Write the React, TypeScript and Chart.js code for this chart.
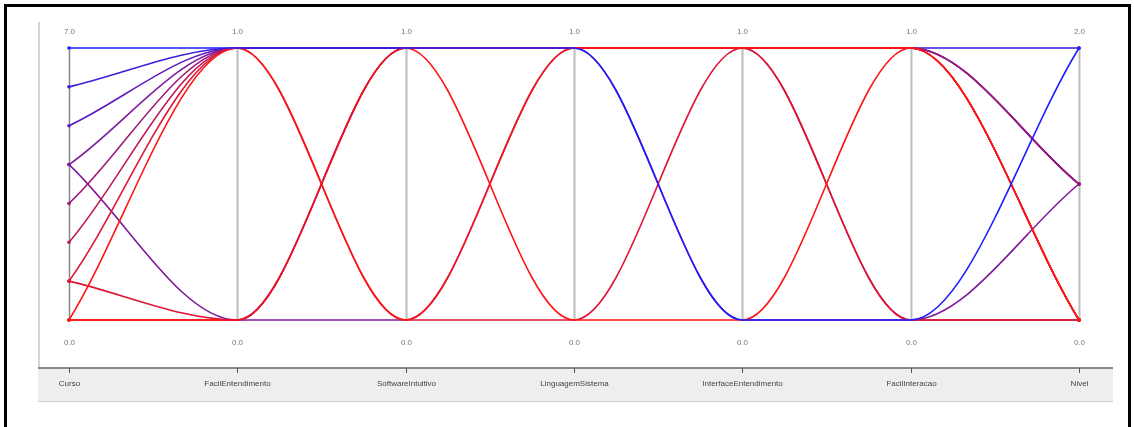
import { useEffect, useRef } from "react";
import { Chart, registerables } from "chart.js";

Chart.register(...registerables);

// Parallel-coordinate axes
const axisNames = [
  "Curso",
  "FacilEntendimento",
  "SoftwareIntuitivo",
  "LinguagemSistema",
  "InterfaceEntendimento",
  "FacilInteracao",
  "Nivel",
];
const axisMin = [0, 0, 0, 0, 0, 0, 0];
const axisMax = [7, 1, 1, 1, 1, 1, 2];

// One entry per record (first record is drawn on top)
const curso = [7, 0, 1, 0, 0, 1, 2, 3, 4, 5, 4, 6];
const facilEntendimento = [1, 1, 0, 0, 0, 1, 1, 1, 1, 1, 0, 1];
const softwareIntuitivo = [1, 0, 1, 1, 1, 0, 1, 1, 1, 1, 0, 1];
const linguagemSistema = [1, 1, 1, 0, 1, 0, 1, 1, 1, 1, 1, 1];
const interfaceEntendimento = [0, 1, 1, 0, 1, 1, 1, 1, 1, 1, 0, 1];
const facilInteracao = [0, 1, 1, 1, 1, 0, 0, 1, 1, 1, 0, 1];
const nivel = [2, 0, 0, 0, 0, 0, 0, 1, 1, 1, 1, 2];

const columns = [
  curso,
  facilEntendimento,
  softwareIntuitivo,
  linguagemSistema,
  interfaceEntendimento,
  facilInteracao,
  nivel,
];

function recordColor(c: number): string {
  const t = c / 7;
  const red = [255, 20, 20];
  const blue = [30, 30, 255];
  const m = red.map((v, i) => Math.round(v * (1 - t) + blue[i] * t));
  return `rgb(${m[0]},${m[1]},${m[2]})`;
}

const framePlugin = {
  id: "pcFrame",
  beforeDatasetsDraw(chart: any) {
    const { ctx } = chart;
    const xs = chart.scales.x;
    const ys = chart.scales.y;
    const yTop = ys.getPixelForValue(1);
    const yBot = ys.getPixelForValue(0);
    ctx.save();
    // outer frame
    ctx.strokeStyle = "#000";
    ctx.lineWidth = 3;
    ctx.strokeRect(5.5, 5.5, 1124, 440);
    // panel left edge
    ctx.strokeStyle = "#d4d4d4";
    ctx.lineWidth = 2;
    ctx.beginPath();
    ctx.moveTo(39, 22);
    ctx.lineTo(39, 402);
    ctx.stroke();
    // bottom band
    ctx.fillStyle = "#eeeeee";
    ctx.fillRect(38, 369, 1075, 33);
    ctx.strokeStyle = "#cfcfcf";
    ctx.lineWidth = 1;
    ctx.beginPath();
    ctx.moveTo(38, 401.5);
    ctx.lineTo(1113, 401.5);
    ctx.stroke();
    ctx.strokeStyle = "#888";
    ctx.lineWidth = 2;
    ctx.beginPath();
    ctx.moveTo(38, 368);
    ctx.lineTo(1113, 368);
    ctx.stroke();

    ctx.font = "8px 'Liberation Sans', Arial, sans-serif";
    ctx.textAlign = "center";
    ctx.textBaseline = "middle";
    axisNames.forEach((name, i) => {
      const x = Math.round(xs.getPixelForValue(i)) + 0.5;
      // axis line
      ctx.strokeStyle = i === 0 ? "#888" : "#bbb";
      ctx.lineWidth = i === 0 ? 1.5 : 2;
      ctx.beginPath();
      ctx.moveTo(x, yTop);
      ctx.lineTo(x, yBot);
      ctx.stroke();
      // tick in band
      ctx.strokeStyle = "#555";
      ctx.lineWidth = 1;
      ctx.beginPath();
      ctx.moveTo(x, 368);
      ctx.lineTo(x, 373);
      ctx.stroke();
      // range labels
      ctx.fillStyle = "#777";
      ctx.fillText(axisMax[i].toFixed(1), x, 32);
      ctx.fillText(axisMin[i].toFixed(1), x, 343);
      // axis name
      ctx.fillStyle = "#444";
      ctx.fillText(name, x, 384);
    });
    ctx.restore();
  },
};

export default function App() {
  const ref = useRef<HTMLCanvasElement | null>(null);

  useEffect(() => {
    if (!ref.current) return;
    const datasets = curso.map((c, r) => {
      const col = recordColor(c);
      return {
        label: `r${r}`,
        data: columns.map((arr, a) => (arr[r] - axisMin[a]) / (axisMax[a] - axisMin[a])),
        borderColor: col,
        backgroundColor: col,
        borderWidth: 1.6,
        cubicInterpolationMode: "monotone" as const,
        fill: false,
        clip: false as any,
        pointRadius: (ctx: any) =>
          ctx.dataIndex === 0 || ctx.dataIndex === axisNames.length - 1 ? 1.8 : 0,
        pointBorderWidth: 0,
      };
    });
    const chart = new Chart(ref.current, {
      type: "line",
      data: { labels: axisNames, datasets },
      options: {
        animation: false,
        responsive: true,
        maintainAspectRatio: false,
        layout: { padding: { left: 69, right: 55, top: 48, bottom: 107 } },
        elements: { line: { capBezierPoints: false } },
        plugins: { legend: { display: false }, tooltip: { enabled: false } },
        scales: {
          x: { type: "category", offset: false, display: false },
          y: { type: "linear", min: 0, max: 1, display: false },
        },
      },
      plugins: [framePlugin],
    });
    return () => chart.destroy();
  }, []);

  return (
    <div
      style={{
        position: "absolute",
        left: 0,
        top: 0,
        width: 1134,
        height: 427,
        background: "#fff",
      }}
    >
      <canvas ref={ref} />
    </div>
  );
}
